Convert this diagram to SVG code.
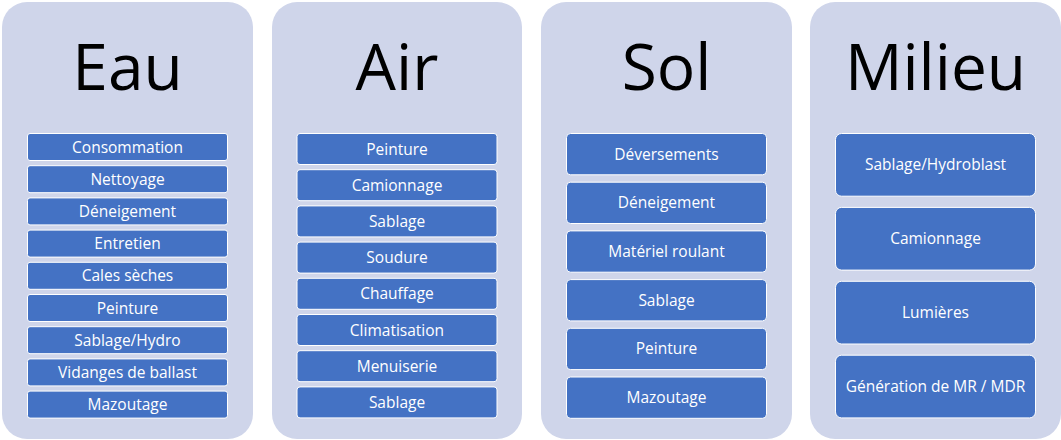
<svg xmlns="http://www.w3.org/2000/svg" width="1061" height="440" viewBox="0 0 1061 440">
<style>
.panel{fill:#CFD5EA;}
.box{fill:#4472C4;stroke:#FFFFFF;stroke-width:1;}
.title{font-family:"Open Sans","Liberation Sans",sans-serif;font-size:64px;fill:#000000;text-anchor:middle;}
.lbl{font-family:"Open Sans","Liberation Sans",sans-serif;font-size:15.5px;fill:#FFFFFF;text-anchor:middle;}
</style>
<rect width="1061" height="440" fill="#FFFFFF"/>
<g id="eau">
<rect class="panel" x="2" y="2" width="251" height="437" rx="25"/>
<text class="title" x="127.5" y="90">Eau</text>
<g id="eau-items">
<rect class="box" x="27.5" y="133.5" width="200" height="27" rx="2.5"/><text class="lbl" x="127.5" y="152.5">Consommation</text>
<rect class="box" x="27.5" y="165.7" width="200" height="27" rx="2.5"/><text class="lbl" x="127.5" y="184.7">Nettoyage</text>
<rect class="box" x="27.5" y="197.9" width="200" height="27" rx="2.5"/><text class="lbl" x="127.5" y="216.9">Déneigement</text>
<rect class="box" x="27.5" y="230.1" width="200" height="27" rx="2.5"/><text class="lbl" x="127.5" y="249.1">Entretien</text>
<rect class="box" x="27.5" y="262.3" width="200" height="27" rx="2.5"/><text class="lbl" x="127.5" y="281.3">Cales sèches</text>
<rect class="box" x="27.5" y="294.5" width="200" height="27" rx="2.5"/><text class="lbl" x="127.5" y="313.5">Peinture</text>
<rect class="box" x="27.5" y="326.7" width="200" height="27" rx="2.5"/><text class="lbl" x="127.5" y="345.7">Sablage/Hydro</text>
<rect class="box" x="27.5" y="358.9" width="200" height="27" rx="2.5"/><text class="lbl" x="127.5" y="377.9">Vidanges de ballast</text>
<rect class="box" x="27.5" y="391.1" width="200" height="27" rx="2.5"/><text class="lbl" x="127.5" y="410.1">Mazoutage</text>
</g>
</g>
<g id="air">
<rect class="panel" x="272" y="2" width="250" height="437" rx="25"/>
<text class="title" x="397" y="90">Air</text>
<g id="air-items">
<rect class="box" x="297" y="133.5" width="200" height="31" rx="3"/><text class="lbl" x="397" y="154.5">Peinture</text>
<rect class="box" x="297" y="169.7" width="200" height="31" rx="3"/><text class="lbl" x="397" y="190.7">Camionnage</text>
<rect class="box" x="297" y="205.9" width="200" height="31" rx="3"/><text class="lbl" x="397" y="226.9">Sablage</text>
<rect class="box" x="297" y="242.1" width="200" height="31" rx="3"/><text class="lbl" x="397" y="263.1">Soudure</text>
<rect class="box" x="297" y="278.3" width="200" height="31" rx="3"/><text class="lbl" x="397" y="299.3">Chauffage</text>
<rect class="box" x="297" y="314.5" width="200" height="31" rx="3"/><text class="lbl" x="397" y="335.5">Climatisation</text>
<rect class="box" x="297" y="350.7" width="200" height="31" rx="3"/><text class="lbl" x="397" y="371.7">Menuiserie</text>
<rect class="box" x="297" y="386.9" width="200" height="31" rx="3"/><text class="lbl" x="397" y="407.9">Sablage</text>
</g>
</g>
<g id="sol">
<rect class="panel" x="541" y="2" width="251" height="437" rx="25"/>
<text class="title" x="666.5" y="90">Sol</text>
<g id="sol-items">
<rect class="box" x="566.5" y="133.5" width="200" height="41.3" rx="4"/><text class="lbl" x="666.5" y="159.6">Déversements</text>
<rect class="box" x="566.5" y="182.2" width="200" height="41.3" rx="4"/><text class="lbl" x="666.5" y="208.3">Déneigement</text>
<rect class="box" x="566.5" y="230.9" width="200" height="41.3" rx="4"/><text class="lbl" x="666.5" y="257">Matériel roulant</text>
<rect class="box" x="566.5" y="279.6" width="200" height="41.3" rx="4"/><text class="lbl" x="666.5" y="305.7">Sablage</text>
<rect class="box" x="566.5" y="328.3" width="200" height="41.3" rx="4"/><text class="lbl" x="666.5" y="354.4">Peinture</text>
<rect class="box" x="566.5" y="377" width="200" height="41.3" rx="4"/><text class="lbl" x="666.5" y="403.1">Mazoutage</text>
</g>
</g>
<g id="milieu">
<rect class="panel" x="810" y="2" width="251" height="437" rx="25"/>
<text class="title" x="935.5" y="90">Milieu</text>
<g id="milieu-items">
<rect class="box" x="835.5" y="133.5" width="200" height="62.7" rx="6"/><text class="lbl" x="935.5" y="170.3">Sablage/Hydroblast</text>
<rect class="box" x="835.5" y="207.4" width="200" height="62.7" rx="6"/><text class="lbl" x="935.5" y="244.2">Camionnage</text>
<rect class="box" x="835.5" y="281.3" width="200" height="62.7" rx="6"/><text class="lbl" x="935.5" y="318.1">Lumières</text>
<rect class="box" x="835.5" y="355.2" width="200" height="62.7" rx="6"/><text class="lbl" x="935.5" y="392">Génération de MR / MDR</text>
</g>
</g>
<g id="connectors"/>
</svg>
